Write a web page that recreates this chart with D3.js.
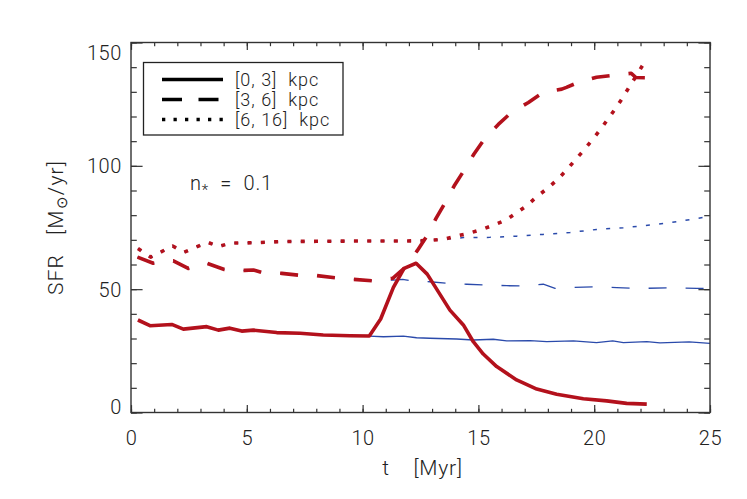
<!DOCTYPE html>
<html>
<head>
<meta charset="utf-8">
<script src="https://cdn.jsdelivr.net/npm/d3@7"></script>
<style>
  body { margin: 0; background: #fff; }
  text { font-family: Roboto, "Liberation Sans", Arial, sans-serif; font-weight: 300; fill: #222; white-space: pre; }
</style>
</head>
<body>
<div id="chart"></div>
<script>
const SIZE = { width: 747, height: 499 };
const PLOT = { left: 131, right: 710, top: 42.5, bottom: 412.5 };

// [t (Myr), SFR (Msun/yr)] — early part shared by both runs
const sharedSolid = [[0.3, 37.5], [0.82, 35.2], [1.76, 35.7], [2.26, 33.8], [3.27, 34.8], [3.77, 33.4],
  [4.27, 34.2], [4.78, 33.0], [5.28, 33.4], [6.29, 32.4], [7.3, 32.1], [8.3, 31.4], [9.46, 31.1], [10.29, 31.0]];
const redSolidTail = [[10.78, 37.9], [11.33, 50.7], [11.79, 58.4], [12.31, 60.5], [12.79, 56.1], [13.77, 41.5],
  [14.35, 35.5], [14.78, 28.7], [15.21, 23.7], [15.79, 18.6], [16.65, 13.2], [17.52, 9.5], [18.38, 7.4],
  [19.53, 5.6], [20.54, 4.7], [21.4, 3.7], [22.27, 3.4]];
const blueSolidTail = [[10.9, 30.7], [11.76, 31.0], [12.33, 30.3], [12.9, 30.1], [14.06, 29.8], [14.78, 29.4],
  [15.64, 29.7], [16.22, 29.0], [17.23, 29.1], [17.95, 28.7], [19.1, 29.0], [20.1, 28.3], [20.8, 29.0],
  [21.26, 28.3], [22.27, 28.7], [22.84, 28.2], [24.1, 28.6], [25, 28.0]];

const sharedDashed = [[0.28, 63.0], [0.96, 60.5], [1.83, 61.5], [2.47, 58.4], [3.27, 60.5], [4.03, 58.0],
  [4.9, 57.6], [5.28, 57.8], [5.64, 56.8], [6.51, 56.4], [7.22, 55.7], [8.02, 55.5], [8.81, 54.6],
  [9.6, 54.0], [10.43, 53.4]];
const redDashedTail = [[11.3, 54.4], [11.79, 58.4], [12.36, 65.6], [12.8, 71.9], [13.17, 78.7], [13.56, 85.0],
  [13.95, 91.8], [14.39, 98.3], [14.81, 104.8], [15.28, 111.1], [15.86, 116.8], [16.41, 121.5],
  [17.16, 125.7], [17.8, 129.8], [18.6, 131.1], [18.8, 131.8], [19.3, 133.8], [20.1, 135.9],
  [20.9, 136.8], [21.6, 137.5], [21.8, 135.8], [22.27, 135.7]];
const blueDashedTail = [[11.33, 53.7], [11.73, 54.0], [12.1, 53.4], [12.9, 53.0], [13.7, 52.4], [14.5, 52.0],
  [15.36, 51.7], [16.22, 51.4], [16.94, 51.3], [17.8, 52.0], [18.31, 50.3], [18.96, 50.7], [20.1, 51.0],
  [20.97, 50.6], [22.1, 50.3], [23.27, 50.6], [24.43, 50.3], [25, 50.3]];

const sharedDotted = [[0.3, 66.5], [0.85, 63.0], [1.8, 67.5], [2.3, 65.0], [3.3, 69.0], [3.8, 67.3],
  [4.3, 68.7], [5.3, 68.8], [6.5, 69.3], [8.0, 69.4], [9.5, 69.5], [11.2, 69.5], [12.5, 69.6]];
const redDottedTail = [[13.5, 70.2], [14.03, 71.5], [14.57, 72.6], [15.14, 74.2], [15.67, 76.0], [16.19, 78.0],
  [16.65, 81.0], [17.11, 84.0], [17.52, 87.5], [17.99, 90.9], [18.42, 94.5], [18.81, 98.3], [19.17, 102.3],
  [19.53, 106.1], [19.89, 110.2], [20.25, 114.5], [20.58, 118.8], [20.9, 123.0], [21.23, 127.6],
  [21.52, 132.1], [21.84, 136.8], [22.2, 142.5]];
const blueDottedTail = [[13.5, 70.2], [14.35, 70.9], [15.5, 71.0], [16.65, 71.5], [17.8, 72.2], [18.96, 73.0],
  [20.1, 74.2], [21.26, 74.9], [22.4, 76.0], [23.56, 77.3], [24.7, 79.1], [25, 79.5]];

const xTicks = [0, 5, 10, 15, 20, 25];
const yTicks = [0, 50, 100, 150];
const legendLabels = ["[0, 3]  kpc", "[3, 6]  kpc", "[6, 16]  kpc"];

const RED = "#b3111c";
const BLUE = "#2a4aab";
const DASH = "18,19";
const DOT = "4,9.3";

const svg = d3.select("#chart").append("svg")
  .attr("width", SIZE.width)
  .attr("height", SIZE.height);

const x = d3.scaleLinear().domain([0, 25]).range([PLOT.left, PLOT.right]);
const y = d3.scaleLinear().domain([0, 150]).range([PLOT.bottom, PLOT.top]);
const line = d3.line().x(d => x(d[0])).y(d => y(d[1]));

// blue (thin) runs first, red drawn over them
const series = [
  { data: sharedSolid.concat(blueSolidTail), color: BLUE, w: 1.3, dash: null },
  { data: sharedDashed.concat(blueDashedTail), color: BLUE, w: 1.3, dash: DASH },
  { data: sharedDotted.concat(blueDottedTail), color: BLUE, w: 1.5, dash: DOT },
  { data: sharedSolid.concat(redSolidTail), color: RED, w: 3.6, dash: null },
  { data: sharedDashed.concat(redDashedTail), color: RED, w: 3.6, dash: DASH },
  { data: sharedDotted.concat(redDottedTail), color: RED, w: 3.6, dash: DOT },
];
svg.append("g").selectAll("path").data(series).enter().append("path")
  .attr("d", d => line(d.data))
  .attr("fill", "none")
  .attr("stroke", d => d.color)
  .attr("stroke-width", d => d.w)
  .attr("stroke-dasharray", d => d.dash)
  .attr("stroke-linejoin", "round");

// axes, ticks pointing inward on all four sides
const AX = "#333";
function styleAxis(g) {
  g.select(".domain").remove();
  g.selectAll("line").attr("stroke", AX).attr("stroke-width", 1.2);
  g.selectAll("text").attr("fill", "#222")
    .style("font-size", "20px").style("letter-spacing", "0.6px")
    .style("font-family", "Roboto, Liberation Sans, Arial, sans-serif").style("font-weight", 300);
}
const xMinor = d3.range(0, 26, 1);
const yMinor = d3.range(0, 151, 10);
const xlen = 0.02 * (PLOT.bottom - PLOT.top), ylen = 0.02 * (PLOT.right - PLOT.left);

svg.append("g").attr("transform", `translate(0,${PLOT.bottom})`)
  .call(d3.axisBottom(x).tickValues(xMinor).tickSize(-xlen / 2).tickFormat("")).call(styleAxis);
svg.append("g").attr("transform", `translate(0,${PLOT.bottom})`)
  .call(d3.axisBottom(x).tickValues(xTicks).tickSize(-xlen).tickPadding(18).tickFormat(d3.format("d"))).call(styleAxis);
svg.append("g").attr("transform", `translate(0,${PLOT.top})`)
  .call(d3.axisTop(x).tickValues(xMinor).tickSize(-xlen / 2).tickFormat("")).call(styleAxis);
svg.append("g").attr("transform", `translate(0,${PLOT.top})`)
  .call(d3.axisTop(x).tickValues(xTicks).tickSize(-xlen).tickFormat("")).call(styleAxis);

svg.append("g").attr("transform", `translate(${PLOT.left},0)`)
  .call(d3.axisLeft(y).tickValues(yMinor).tickSize(-ylen / 2).tickFormat("")).call(styleAxis);
const yAx = svg.append("g").attr("transform", `translate(${PLOT.left},0)`)
  .call(d3.axisLeft(y).tickValues(yTicks).tickSize(-ylen).tickPadding(9).tickFormat(d3.format("d"))).call(styleAxis);
yAx.selectAll("text").attr("dy", d => d === 150 ? "0.85em" : d === 0 ? "0.05em" : "0.35em");
svg.append("g").attr("transform", `translate(${PLOT.right},0)`)
  .call(d3.axisRight(y).tickValues(yMinor).tickSize(-ylen / 2).tickFormat("")).call(styleAxis);
svg.append("g").attr("transform", `translate(${PLOT.right},0)`)
  .call(d3.axisRight(y).tickValues(yTicks).tickSize(-ylen).tickFormat("")).call(styleAxis);

svg.append("rect")
  .attr("x", PLOT.left).attr("y", PLOT.top)
  .attr("width", PLOT.right - PLOT.left).attr("height", PLOT.bottom - PLOT.top)
  .attr("fill", "none").attr("stroke", AX).attr("stroke-width", 1.4);

// axis titles
svg.append("text")
  .attr("x", (PLOT.left + PLOT.right) / 2 + 2).attr("y", 475)
  .attr("text-anchor", "middle").style("font-size", "21px").style("letter-spacing", "0.8px")
  .text("t    [Myr]");
const yt = svg.append("text")
  .attr("transform", `translate(63,${(PLOT.top + PLOT.bottom) / 2}) rotate(-90)`)
  .attr("text-anchor", "middle").style("font-size", "21px").style("letter-spacing", "1.2px");
yt.append("tspan").text("SFR   [M");
yt.append("tspan").attr("baseline-shift", "-25%").style("font-size", "15px").text("\u2299");
yt.append("tspan").text("/yr]");

// annotation n* = 0.1
const ann = svg.append("text").attr("x", 190).attr("y", 190).style("font-size", "20px").style("letter-spacing", "0.8px");
ann.append("tspan").text("n");
ann.append("tspan").attr("baseline-shift", "-35%").style("font-size", "15px").text("*");
ann.append("tspan").text("  =  0.1");

// legend
const legend = svg.append("g");
legend.append("rect")
  .attr("x", 143.5).attr("y", 62.5).attr("width", 199.5).attr("height", 72.5)
  .attr("fill", "#fff").attr("stroke", "#222").attr("stroke-width", 1.3);
const legendDash = [null, "20,16.5", "3.3,8.2"];
legendLabels.forEach((lab, i) => {
  const ly = 79.5 + i * 20;
  legend.append("line")
    .attr("x1", 162).attr("x2", 223).attr("y1", ly).attr("y2", ly)
    .attr("stroke", "#000").attr("stroke-width", 3.4)
    .attr("stroke-dasharray", legendDash[i]);
  legend.append("text")
    .attr("x", 235).attr("y", ly + 6.5)
    .style("font-size", "18px").style("letter-spacing", "1px")
    .text(lab);
});
</script>
</body>
</html>
